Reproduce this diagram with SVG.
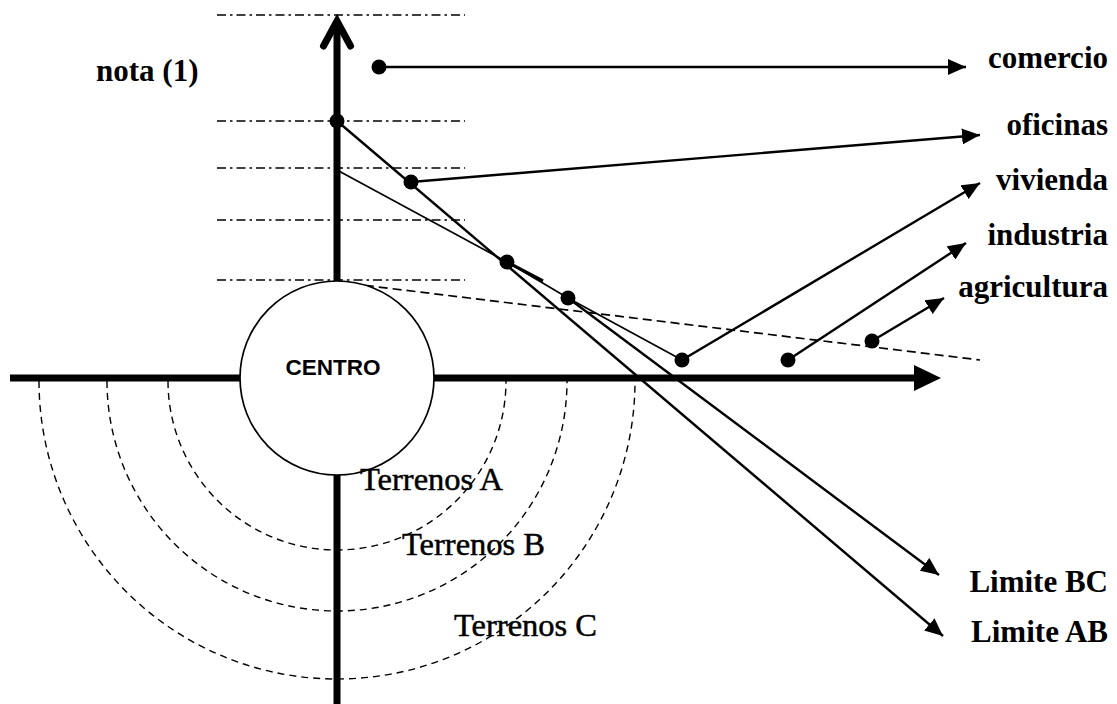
<svg xmlns="http://www.w3.org/2000/svg" width="1117" height="704" viewBox="0 0 1117 704">
  <style>
    .lbl { font-family: "Liberation Serif", "Times New Roman", serif; font-weight: bold; font-size: 31px; fill: #000; }
    .zone { font-family: "Liberation Serif", "Times New Roman", serif; font-size: 32.5px; fill: #000; stroke: #000; stroke-width: 0.5; }
    .centro { font-family: "Liberation Sans", Arial, sans-serif; font-weight: bold; font-size: 22.5px; fill: #000; }
    .level { stroke: #000; stroke-width: 1.7; stroke-dasharray: 9 4 2.5 4; fill: none; }
    .ring { stroke: #000; stroke-width: 1.4; stroke-dasharray: 7 5; fill: none; }
    .axis { stroke: #000; stroke-width: 7; fill: none; }
    .link { stroke: #000; stroke-width: 2.4; fill: none; }
    .thin { stroke: #000; stroke-width: 1.7; fill: none; }
    .dot { fill: #000; }
  </style>
  <defs>
    <marker id="tri" viewBox="0 0 18 16" refX="18" refY="8" markerWidth="18" markerHeight="16" markerUnits="userSpaceOnUse" orient="auto">
      <path d="M0,0 L18,8 L0,16 Z" fill="#000"/>
    </marker>
  </defs>

  <rect width="1117" height="704" fill="#fff"/>

  <!-- reference levels -->
  <g id="levels">
    <line class="level" x1="217" y1="15" x2="465" y2="15"/>
    <line class="level" x1="217" y1="121" x2="465" y2="121"/>
    <line class="level" x1="217" y1="168" x2="465" y2="168"/>
    <line class="level" x1="217" y1="220" x2="465" y2="220"/>
    <line class="level" x1="217" y1="280" x2="465" y2="280"/>
  </g>

  <!-- land rings -->
  <g id="rings">
    <path class="ring" d="M168,381 A169,169 0 0 0 506,381"/>
    <path class="ring" d="M107,381 A230,230 0 0 0 567,381"/>
    <path class="ring" d="M39,381 A298,298 0 0 0 635,381"/>
  </g>

  <!-- axes -->
  <g id="axes">
    <line class="axis" x1="10" y1="378" x2="918" y2="378"/>
    <path d="M914,365 L941,378 L914,391 Z" fill="#000"/>
    <line class="axis" x1="337" y1="24" x2="337" y2="704"/>
    <polyline class="axis" points="323.5,46 337,21 350.5,46" stroke-linecap="round" stroke-linejoin="miter"/>
  </g>

  <!-- connectors -->
  <g id="connectors">
    <line class="thin" x1="337" y1="282" x2="980" y2="360" stroke-dasharray="9 5"/>
    <polyline class="thin" points="337,170 507,262 568,298 682,360"/>
    <line x1="507" y1="262" x2="543" y2="281" stroke="#000" stroke-width="3.2"/>
    <line class="link" x1="337" y1="121" x2="943" y2="636" marker-end="url(#tri)"/>
    <line class="link" x1="568" y1="298" x2="939" y2="575" marker-end="url(#tri)"/>
    <line class="link" x1="379" y1="67" x2="966" y2="67" marker-end="url(#tri)"/>
    <line class="link" x1="411" y1="182" x2="980" y2="135" marker-end="url(#tri)"/>
    <line class="link" x1="682" y1="360" x2="980" y2="183" marker-end="url(#tri)"/>
    <line class="link" x1="788" y1="360" x2="966" y2="243" marker-end="url(#tri)"/>
    <line class="link" x1="872" y1="341" x2="944" y2="298" marker-end="url(#tri)"/>
  </g>

  <!-- centre -->
  <g id="centro">
    <circle cx="337" cy="378" r="97" fill="#fff" stroke="#000" stroke-width="1.7"/>
    <text class="centro" x="333" y="375" text-anchor="middle">CENTRO</text>
  </g>

  <!-- points -->
  <g id="points">
    <circle class="dot" cx="379" cy="67" r="7.5"/>
    <circle class="dot" cx="337" cy="121" r="7.5"/>
    <circle class="dot" cx="411" cy="182" r="7.5"/>
    <circle class="dot" cx="507" cy="262" r="7.5"/>
    <circle class="dot" cx="568" cy="298" r="7.5"/>
    <circle class="dot" cx="682" cy="360" r="7.5"/>
    <circle class="dot" cx="788" cy="360" r="7.5"/>
    <circle class="dot" cx="872" cy="341" r="7.5"/>
  </g>

  <!-- labels -->
  <g id="nota"><text class="lbl" x="96" y="81">nota (1)</text></g>
  <g id="comercio"><text class="lbl" x="1108" y="68" text-anchor="end">comercio</text></g>
  <g id="oficinas"><text class="lbl" x="1108" y="135" text-anchor="end">oficinas</text></g>
  <g id="vivienda"><text class="lbl" x="1108" y="190" text-anchor="end">vivienda</text></g>
  <g id="industria"><text class="lbl" x="1108" y="245" text-anchor="end">industria</text></g>
  <g id="agricultura"><text class="lbl" x="1108" y="297" text-anchor="end">agricultura</text></g>
  <g id="limite-bc"><text class="lbl" x="1108" y="592" text-anchor="end">Limite BC</text></g>
  <g id="limite-ab"><text class="lbl" x="1108" y="642" text-anchor="end">Limite AB</text></g>
  <g id="terrenos-a"><text class="zone" x="360" y="490">Terrenos A</text></g>
  <g id="terrenos-b"><text class="zone" x="402" y="555">Terrenos B</text></g>
  <g id="terrenos-c"><text class="zone" x="454" y="636">Terrenos C</text></g>
</svg>
